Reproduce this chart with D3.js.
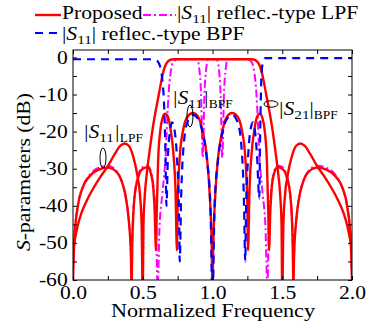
<!DOCTYPE html>
<html>
<head>
<meta charset="utf-8">
<script src="https://cdn.jsdelivr.net/npm/d3@7"></script>
<style>
  body { margin: 0; background: #fff; }
  text { font-family: "Liberation Serif", "Times New Roman", serif; fill: #000; }
</style>
</head>
<body>
<div id="chart"></div>
<script>
// ---- data (normalized frequency, dB) ----
const propS11F = [0, 0.01, 0.035, 0.07, 0.12, 0.18, 0.25, 0.31, 0.35, 0.38, 0.40, 0.415, 0.42,
  0.425, 0.44, 0.47, 0.50, 0.535, 0.56, 0.575, 0.585, 0.595,
  0.60, 0.61, 0.625, 0.645, 0.66, 0.68, 0.70, 0.72, 0.735, 0.745,
  0.75, 0.765, 0.79, 0.82, 0.86, 0.90, 0.93, 0.96, 0.98, 0.995, 1.0,
  1.005, 1.02, 1.04, 1.07, 1.10, 1.14, 1.18, 1.21, 1.235, 1.25, 1.255,
  1.265, 1.28, 1.30, 1.32, 1.34, 1.355, 1.375, 1.39, 1.40, 1.405,
  1.415, 1.425, 1.44, 1.465, 1.50, 1.53, 1.56, 1.575, 1.58,
  1.585, 1.60, 1.62, 1.65, 1.69, 1.75, 1.82, 1.88, 1.93, 1.965, 1.99, 2.0];
const propS11 = [-60, -49, -40, -35, -32, -30.3, -29.7, -30.8, -33.5, -38, -44, -53, -62,
  -50, -38, -32, -30, -29.6, -31.5, -35, -41, -52,
  -42, -28, -20, -16, -15.2, -16, -19.5, -26, -36, -52,
  -40, -27, -19.5, -16, -15, -16.2, -20, -27, -37, -52, -65,
  -52, -37, -27, -20, -16.2, -15, -16, -19.5, -27, -40, -52,
  -36, -26, -19.5, -16, -15.2, -16, -20, -28, -42, -52,
  -41, -35, -31.5, -29.6, -30, -32, -38, -50, -62,
  -53, -44, -38, -33.5, -30.8, -29.7, -30.3, -32, -35, -40, -49, -60];

const propS21F = [0, 0.03, 0.06, 0.10, 0.15, 0.20, 0.25, 0.30, 0.34, 0.37, 0.40, 0.43, 0.46, 0.48, 0.492, 0.50,
  0.505, 0.515, 0.53, 0.55, 0.57, 0.59, 0.61, 0.63, 0.65, 0.67, 0.69, 0.72, 1.0,
  1.28, 1.31, 1.33, 1.35, 1.37, 1.39, 1.41, 1.43, 1.45, 1.47, 1.485, 1.495, 1.50,
  1.508, 1.52, 1.54, 1.57, 1.60, 1.63, 1.66, 1.70, 1.75, 1.80, 1.85, 1.90, 1.94, 1.97, 2.0];
const propS21 = [-52, -46, -42, -38.5, -35, -32, -29.3, -26, -23.8, -23.2, -23.8, -26.5, -31.5, -37, -45, -65,
  -45, -37, -31, -25, -19.5, -15, -11, -7, -3.5, -1.6, -0.8, -0.5, -0.5,
  -0.5, -0.8, -1.6, -3.5, -7, -11, -15, -19.5, -25, -31, -37, -45, -65,
  -45, -37, -31.5, -26.5, -23.8, -23.2, -23.8, -26, -29.3, -32, -35, -38.5, -42, -46, -52];

const lpfS11F = [0, 0.01, 0.035, 0.07, 0.12, 0.18, 0.25, 0.31, 0.35, 0.38, 0.40, 0.415, 0.42,
  0.425, 0.44, 0.47, 0.50, 0.535, 0.56, 0.58, 0.595, 0.607,
  0.62, 0.64, 0.655, 0.665, 0.675, 0.685, 0.70, 0.72, 0.75,
  0.89, 0.905, 0.918, 0.93, 0.942, 0.955, 0.97, 1.03, 1.045, 1.058, 1.07, 1.082, 1.095, 1.11,
  1.25, 1.28, 1.30, 1.315, 1.325, 1.335, 1.345, 1.36, 1.38, 1.393,
  1.405, 1.42, 1.44, 1.465, 1.50, 1.53, 1.56, 1.575, 1.58,
  1.585, 1.60, 1.62, 1.65, 1.69, 1.75, 1.82, 1.88, 1.93, 1.965, 1.99, 2.0];
const lpfS11 = [-60, -49, -40, -35, -31.6, -29.8, -29.2, -30.5, -33.5, -38, -44, -53, -62,
  -50, -38, -31.5, -29.5, -29.2, -31, -36, -45, -62,
  -46, -37, -31, -26, -17, -10, -4, -1.2, -0.5,
  -0.5, -3, -10, -27, -10, -3, -0.5, -0.5, -3, -10, -27, -10, -3, -0.5,
  -0.5, -1.2, -4, -10, -17, -26, -31, -37, -46, -62,
  -45, -36, -31, -29.2, -29.5, -31.5, -38, -50, -62,
  -53, -44, -38, -33.5, -30.5, -29.2, -29.8, -31.6, -35, -40, -49, -60];

const bpfS11F = [0, 0.55, 0.60, 0.625, 0.64, 0.652, 0.662, 0.67,
  0.68, 0.695, 0.71, 0.725, 0.745, 0.76, 0.765,
  0.775, 0.795, 0.82, 0.86, 0.90, 0.93, 0.96, 0.985, 1.0,
  1.015, 1.04, 1.07, 1.10, 1.14, 1.18, 1.205, 1.225, 1.235,
  1.24, 1.255, 1.275, 1.29, 1.305, 1.32, 1.335,
  1.342, 1.35, 1.36, 1.38, 2.0];
const bpfS11 = [-0.5, -0.5, -0.9, -2.5, -6, -12, -24, -40,
  -27, -20, -17.5, -19, -27, -42, -55,
  -38, -23, -17.5, -15.5, -16.8, -20.5, -27.5, -40, -65,
  -40, -27.5, -20.5, -16.8, -15.5, -17.5, -23, -38, -55,
  -42, -27, -19, -17.5, -20, -27, -38,
  -20, -6, -1.5, -0.2, -0.2];

const xTicks = [0, 0.25, 0.5, 0.75, 1.0, 1.25, 1.5, 1.75, 2.0];
const xTickLabels = ["0.0", "", "0.5", "", "1.0", "", "1.5", "", "2.0"];
const yTicks = [0, -5, -10, -15, -20, -25, -30, -35, -40, -45, -50, -55, -60];
const yTickLabels = ["0", "", "-10", "", "-20", "", "-30", "", "-40", "", "-50", "", "-60"];

// ---- layout ----
const W = 374, H = 329;
const SX = 1.17; // the original fonts look a bit wide
const x = d3.scaleLinear().domain([0, 2]).range([73, 352]);
const y = d3.scaleLinear().domain([-60, 2]).range([280, 50]);

const svg = d3.select("#chart").append("svg")
  .attr("width", W).attr("height", H);

svg.append("defs").append("clipPath").attr("id", "plotclip")
  .append("rect")
  .attr("x", x(0)).attr("y", y(2))
  .attr("width", x(2) - x(0)).attr("height", y(-60) - y(2));

// rich text helper: parts = [{t, it, sub, fs}]
function richText(g, px, py, parts, size, anchor, rot) {
  const t = g.append("text")
    .attr("transform", `translate(${px},${py})` + (rot ? ` rotate(${rot})` : "") + ` scale(${SX},1)`)
    .attr("font-size", size)
    .attr("text-anchor", anchor || "start");
  let cur = 0;
  parts.forEach(function (p) {
    const off = p.sub || 0;
    t.append("tspan")
      .attr("dy", off - cur)
      .attr("font-style", p.it ? "italic" : null)
      .attr("font-size", p.fs || null)
      .text(p.t);
    cur = off;
  });
  return t;
}

// ---- curves ----
function series(fs, vals) {
  return fs.map(function (f, i) { return [f, vals[i]]; });
}
const line = d3.line()
  .x(function (d) { return x(d[0]); })
  .y(function (d) { return y(d[1]); })
  .curve(d3.curveMonotoneX);

const plot = svg.append("g").attr("clip-path", "url(#plotclip)");

plot.append("path").datum(series(lpfS11F, lpfS11))
  .attr("d", line).attr("fill", "none")
  .attr("stroke", "#ff00ff").attr("stroke-width", 2)
  .attr("stroke-dasharray", "8,3,2,3");

plot.append("path").datum(series(propS21F, propS21))
  .attr("d", line).attr("fill", "none")
  .attr("stroke", "#ff0000").attr("stroke-width", 2.4);

plot.append("path").datum(series(propS11F, propS11))
  .attr("d", line).attr("fill", "none")
  .attr("stroke", "#ff0000").attr("stroke-width", 2.4);

plot.append("path").datum(series(bpfS11F, bpfS11))
  .attr("d", line).attr("fill", "none")
  .attr("stroke", "#0000ff").attr("stroke-width", 2.2)
  .attr("stroke-dasharray", "8,6");

// ---- axes (ticks inside, on all four sides) ----
const fontTick = 18.5;
const gx = svg.append("g").attr("transform", `translate(0,${y(-60)})`)
  .call(d3.axisBottom(x).tickValues(xTicks).tickSizeInner(-4).tickSizeOuter(0).tickPadding(6)
    .tickFormat(function (d, i) { return xTickLabels[i]; }));
svg.append("g").attr("transform", `translate(0,${y(2)})`)
  .call(d3.axisTop(x).tickValues(xTicks).tickSizeInner(-4).tickSizeOuter(0).tickFormat(""));
const gy = svg.append("g").attr("transform", `translate(${x(0)},0)`)
  .call(d3.axisLeft(y).tickValues(yTicks).tickSizeInner(-4).tickSizeOuter(0).tickPadding(4.5)
    .tickFormat(function (d, i) { return yTickLabels[i]; }));
svg.append("g").attr("transform", `translate(${x(2)},0)`)
  .call(d3.axisRight(y).tickValues(yTicks).tickSizeInner(-4).tickSizeOuter(0).tickFormat(""));

svg.selectAll(".domain").remove();
svg.selectAll(".tick line").attr("stroke", "#000");
svg.selectAll(".tick text").filter(function () { return this.textContent === ""; }).remove();
[gx, gy].forEach(function (g) {
  g.selectAll("text")
    .attr("font-size", fontTick)
    .attr("font-family", '"Liberation Serif", serif')
    .attr("fill", "#000")
    .attr("transform", `scale(${SX},1)`);
});

svg.append("rect")
  .attr("x", x(0)).attr("y", y(2))
  .attr("width", x(2) - x(0)).attr("height", y(-60) - y(2))
  .attr("fill", "none").attr("stroke", "#000").attr("stroke-width", 1);

// axis titles
richText(svg, 213, 317, [{ t: "Normalized Frequency" }], 19, "middle");
richText(svg, 30, 172, [{ t: "S", it: true }, { t: "-parameters (dB)" }], 18.5, "middle", -90);

// ---- annotations ----
const ann = svg.append("g");
richText(ann, 83, 138, [{ t: "|S", it: true }, { t: "11", sub: 4, fs: 13 }, { t: "|", it: true, sub: 0 }, { t: "LPF", sub: 4, fs: 11.5 }], 18);
richText(ann, 172, 104, [{ t: "|S", it: true }, { t: "11", sub: 4, fs: 13 }, { t: "|", it: true, sub: 0 }, { t: "BPF", sub: 4, fs: 11.5 }], 18);
richText(ann, 278, 115, [{ t: "|S", it: true }, { t: "21", sub: 4, fs: 13 }, { t: "|", sub: 0 }, { t: "BPF", sub: 4, fs: 11.5 }], 18);

ann.append("ellipse").attr("cx", 103).attr("cy", 158).attr("rx", 3).attr("ry", 10)
  .attr("fill", "none").attr("stroke", "#000").attr("stroke-width", 1);
ann.append("ellipse").attr("cx", 190).attr("cy", 116).attr("rx", 3).attr("ry", 11)
  .attr("fill", "none").attr("stroke", "#000").attr("stroke-width", 1);
ann.append("ellipse").attr("cx", 271).attr("cy", 104).attr("rx", 7).attr("ry", 3.2)
  .attr("fill", "none").attr("stroke", "#000").attr("stroke-width", 1);

// ---- legend ----
const leg = svg.append("g");
leg.append("line").attr("x1", 35).attr("x2", 61).attr("y1", 15).attr("y2", 15)
  .attr("stroke", "#ff0000").attr("stroke-width", 2.4);
richText(leg, 62, 18.5, [{ t: "Proposed" }], 18.5);
leg.append("line").attr("x1", 143).attr("x2", 176).attr("y1", 15).attr("y2", 15)
  .attr("stroke", "#ff00ff").attr("stroke-width", 2).attr("stroke-dasharray", "8,3,2,3");
richText(leg, 177, 18.5, [{ t: "|" }, { t: "S", it: true }, { t: "11", sub: 4, fs: 13 }, { t: "| reflec.-type LPF", sub: 0 }], 18.5);
leg.append("line").attr("x1", 35).attr("x2", 61).attr("y1", 33).attr("y2", 33)
  .attr("stroke", "#0000ff").attr("stroke-width", 2.2).attr("stroke-dasharray", "8,6");
richText(leg, 62, 40, [{ t: "|" }, { t: "S", it: true }, { t: "11", sub: 4, fs: 13 }, { t: "| reflec.-type BPF", sub: 0 }], 18.5);
</script>
</body>
</html>
